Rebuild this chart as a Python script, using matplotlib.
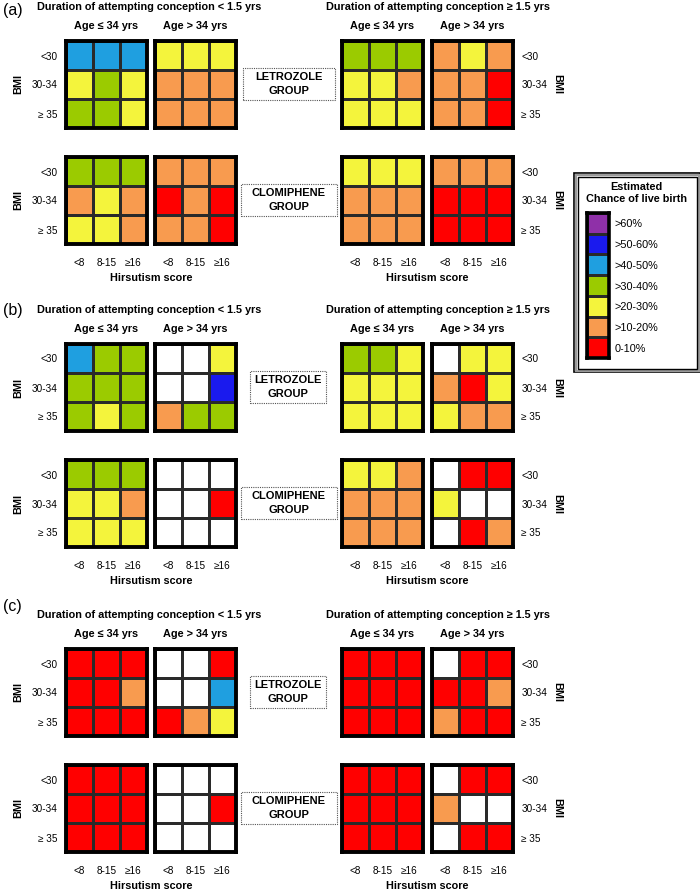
import numpy as np
import matplotlib
matplotlib.use("Agg")
import matplotlib.pyplot as plt
from matplotlib.colors import ListedColormap, BoundaryNorm
from matplotlib.patches import Rectangle

plt.rcParams['font.family'] = ['Liberation Sans', 'DejaVu Sans']

# ---------------- data ----------------
# category codes: 0 = 0-10%, 1 = >10-20%, 2 = >20-30%, 3 = >30-40%,
# 4 = >40-50%, 5 = >50-60%, 6 = >60%, nan = no estimate (white)
N = np.nan
legend_labels = ["0-10%", ">10-20%", ">20-30%", ">30-40%", ">40-50%", ">50-60%", ">60%"]
legend_colors = ["#ff0000", "#f89b4f", "#f4f43c", "#9bcb00", "#1f9fe0", "#1a1aee", "#8f30a8"]
bmi_labels = ["<30", "30-34", "\u2265 35"]
hirsutism_labels = ["<8", "8-15", "\u226516"]
panel_labels = ["(a)", "(b)", "(c)"]
duration_titles = ["Duration of attempting conception < 1.5 yrs",
                   "Duration of attempting conception \u2265 1.5 yrs"]
age_titles = ["Age \u2264 34 yrs", "Age > 34 yrs"]
group_names = ["LETROZOLE\nGROUP", "CLOMIPHENE\nGROUP"]

# order within each panel: [duration<1.5 age<=34, duration<1.5 age>34,
#                           duration>=1.5 age<=34, duration>=1.5 age>34]
panel_a_letrozole = [
    [[4, 4, 4], [2, 3, 2], [3, 3, 2]],
    [[2, 2, 2], [1, 1, 1], [1, 1, 1]],
    [[3, 3, 3], [2, 2, 1], [2, 2, 2]],
    [[1, 2, 1], [1, 1, 0], [1, 1, 0]],
]
panel_a_clomiphene = [
    [[3, 3, 3], [1, 2, 1], [2, 2, 1]],
    [[1, 1, 1], [0, 1, 0], [1, 1, 0]],
    [[2, 2, 2], [1, 1, 1], [1, 1, 1]],
    [[1, 1, 1], [0, 0, 0], [0, 0, 0]],
]
panel_b_letrozole = [
    [[4, 3, 3], [3, 3, 3], [3, 2, 3]],
    [[N, N, 2], [N, N, 5], [1, 3, 3]],
    [[3, 3, 2], [2, 2, 2], [2, 2, 2]],
    [[N, 2, 2], [1, 0, 2], [2, 1, 1]],
]
panel_b_clomiphene = [
    [[3, 3, 3], [2, 2, 1], [2, 2, 2]],
    [[N, N, N], [N, N, 0], [N, N, N]],
    [[2, 2, 1], [1, 1, 1], [1, 1, 1]],
    [[N, 0, 0], [2, N, N], [N, 0, 1]],
]
panel_c_letrozole = [
    [[0, 0, 0], [0, 0, 1], [0, 0, 0]],
    [[N, N, 0], [N, N, 4], [0, 1, 2]],
    [[0, 0, 0], [0, 0, 0], [0, 0, 0]],
    [[N, 0, 0], [0, 0, 1], [1, 0, 0]],
]
panel_c_clomiphene = [
    [[0, 0, 0], [0, 0, 0], [0, 0, 0]],
    [[N, N, N], [N, N, 0], [N, N, N]],
    [[0, 0, 0], [0, 0, 0], [0, 0, 0]],
    [[N, 0, 0], [1, N, N], [N, 0, 0]],
]
panels = [
    (panel_a_letrozole, panel_a_clomiphene),
    (panel_b_letrozole, panel_b_clomiphene),
    (panel_c_letrozole, panel_c_clomiphene),
]

# ---------------- layout (pixels) ----------------
W, H = 700, 892
fig = plt.figure(figsize=(W / 100, H / 100), dpi=100)

def rect(x0, y0, w, h):
    return [x0 / W, 1 - (y0 + h) / H, w / W, h / H]

def fx(x):
    return x / W

def fy(y):
    return 1 - y / H

cmap = ListedColormap(legend_colors)
cmap.set_bad("white")
norm = BoundaryNorm(np.arange(-0.5, 7.5, 1), cmap.N)

col_x = [66, 155, 342, 432]
grid_w = 81
grid_h = 87
let_tops = [41, 344, 649]
clo_offset = 116
panel_label_y = [10, 310, 606]
let_box = [(243, 92), (250, 76), (250, 76)]
clo_box = [(241, 96), (241, 96), (241, 96)]

tick_fs = 7.2
bold_fs = 7.8

for p, (let, clo) in enumerate(panels):
    top = let_tops[p]
    fig.text(fx(3), fy(panel_label_y[p]), panel_labels[p], fontsize=11.5,
             ha="left", va="center")
    fig.text(fx(37), fy(top - 34), duration_titles[0], fontsize=bold_fs,
             fontweight="bold", ha="left", va="center")
    fig.text(fx(326), fy(top - 34), duration_titles[1], fontsize=bold_fs,
             fontweight="bold", ha="left", va="center")
    for c in range(4):
        fig.text(fx(col_x[c] + grid_w / 2), fy(top - 15), age_titles[c % 2],
                 fontsize=bold_fs, fontweight="bold", ha="center", va="center")
    for g, (data, gtop) in enumerate([(let, top), (clo, top + clo_offset)]):
        for c in range(4):
            ax = fig.add_axes(rect(col_x[c], gtop, grid_w, grid_h))
            arr = np.array(data[c], dtype=float)
            ax.pcolormesh(np.ma.masked_invalid(arr), cmap=cmap, norm=norm,
                          edgecolors="#2a2a2a", linewidth=0.9)
            ax.set_xlim(0, 3)
            ax.set_ylim(3, 0)
            for s in ax.spines.values():
                s.set_linewidth(2.8)
                s.set_color("black")
            ax.tick_params(length=0, labelsize=tick_fs, pad=6)
            ax.set_yticks([0.5, 1.5, 2.5])
            ax.set_xticks([0.5, 1.5, 2.5])
            if c == 0:
                ax.set_yticklabels(bmi_labels)
                ax.set_ylabel("BMI", fontsize=bold_fs, fontweight="bold")
                ax.yaxis.set_label_coords((23 - col_x[0]) / grid_w, 0.5)
            elif c == 3:
                ax.yaxis.tick_right()
                ax.set_yticklabels(bmi_labels)
                ax.yaxis.set_label_position("right")
                ax.set_ylabel("BMI", fontsize=bold_fs, fontweight="bold",
                              rotation=-90, va="center")
                ax.yaxis.set_label_coords((557 - col_x[3]) / grid_w, 0.5)
            else:
                ax.set_yticklabels([])
            if g == 1:
                ax.set_xticklabels(hirsutism_labels)
                ax.tick_params(axis="x", pad=10)
            else:
                ax.set_xticklabels([])
        # group box
        bx, bw = (let_box if g == 0 else clo_box)[p]
        by = gtop + 27
        fig.patches.append(Rectangle((fx(bx), fy(by + 32)), bw / W, 32 / H,
                                     transform=fig.transFigure, fill=False,
                                     edgecolor="#555555", linestyle=(0, (1, 1)),
                                     linewidth=0.8))
        fig.text(fx(bx + bw / 2), fy(by + 16), group_names[g], fontsize=8.0,
                 fontweight="bold", ha="center", va="center", linespacing=1.45)
    bot = top + clo_offset + grid_h
    for cx in [(col_x[0] + col_x[1] + grid_w) / 2, (col_x[2] + col_x[3] + grid_w) / 2]:
        fig.text(fx(cx), fy(bot + 34), "Hirsutism score", fontsize=bold_fs,
                 fontweight="bold", ha="center", va="center")

# ---------------- legend ----------------
fig.patches.append(Rectangle((fx(574), fy(372)), 126 / W, 199 / H,
                             transform=fig.transFigure, fill=False,
                             edgecolor="black", linewidth=1.2))
fig.patches.append(Rectangle((fx(575.5), fy(370.5)), 123 / W, 196 / H,
                             transform=fig.transFigure, fill=False,
                             edgecolor="#9a9a9a", linewidth=1.6))
fig.patches.append(Rectangle((fx(577.5), fy(368.5)), 119 / W, 192 / H,
                             transform=fig.transFigure, fill=False,
                             edgecolor="black", linewidth=1.0))
fig.text(fx(636), fy(187), "Estimated", fontsize=bold_fs, fontweight="bold",
         ha="center", va="center")
fig.text(fx(636), fy(199), "Chance of live birth", fontsize=bold_fs,
         fontweight="bold", ha="center", va="center")
lax = fig.add_axes(rect(587, 213, 22, 145))
codes = np.arange(len(legend_labels))[::-1].reshape(-1, 1).astype(float)
lax.pcolormesh(codes, cmap=cmap, norm=norm, edgecolors="#2a2a2a", linewidth=0.8)
lax.set_xlim(0, 1)
lax.set_ylim(len(legend_labels), 0)
for s in lax.spines.values():
    s.set_linewidth(2.6)
lax.set_xticks([])
lax.yaxis.tick_right()
lax.set_yticks(np.arange(len(legend_labels)) + 0.5)
lax.set_yticklabels(legend_labels[::-1], fontsize=7.8)
lax.tick_params(length=0, pad=4)

fig.savefig("out.png", dpi=100)
